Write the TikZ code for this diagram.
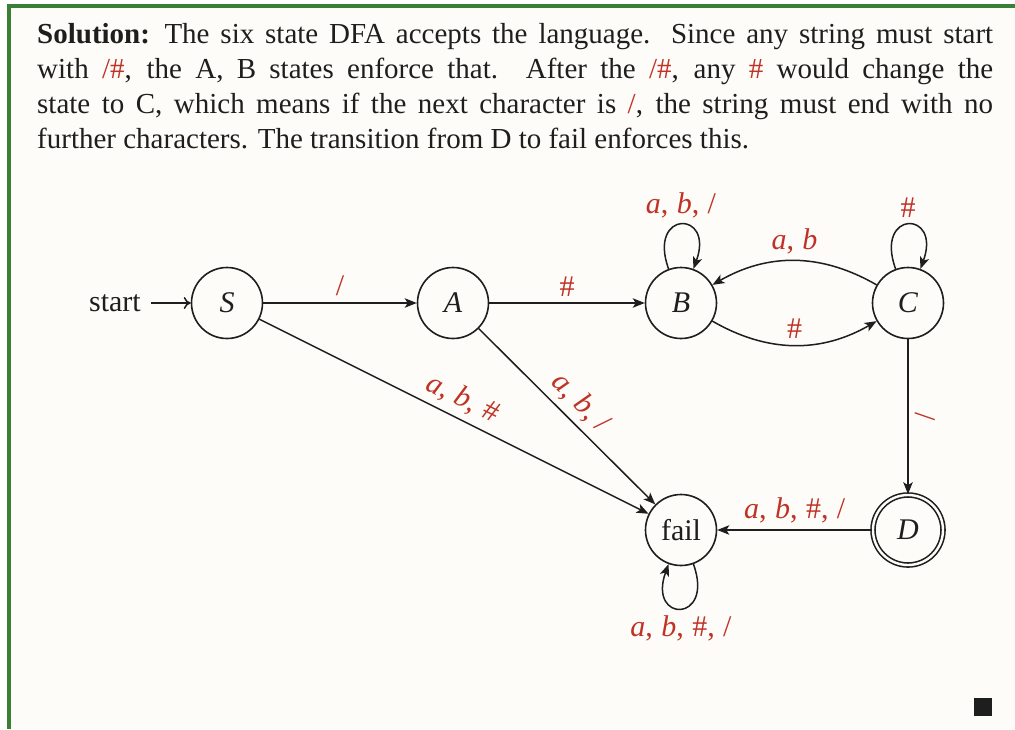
\documentclass[tikz,border=0pt]{standalone}
\usepackage{fontspec}
\setmainfont{Liberation Serif}
\usetikzlibrary{arrows.meta}
\definecolor{lblred}{RGB}{192,50,38}
\definecolor{framegreen}{RGB}{58,128,52}
\definecolor{bgcream}{RGB}{253,252,248}
\definecolor{ink}{RGB}{30,30,30}
\newcommand\dfont{\fontsize{30}{34}\selectfont}
\newcommand\cs{,\hspace{0.28em}}
\begin{document}
\begin{tikzpicture}[x=1pt,y=1pt,
  state/.style={circle,draw=ink,line width=1.6pt,minimum size=71pt,inner sep=0pt,font=\dfont,text=ink},
  accept/.style={state,double=bgcream,double distance=2.4pt,minimum size=70pt},
  edge/.style={draw=ink,line width=1.5pt,-{Stealth[length=12pt,width=9.5pt,inset=3pt]}},
  startarrow/.style={draw=ink,line width=1.5pt,-{Computer Modern Rightarrow[length=7pt,width=12pt]}},
  lbl/.style={text=lblred,font=\dfont,inner sep=6pt},
  loopup/.style={out=110,in=70,looseness=6.5,min distance=5mm},
  loopdown/.style={out=-70,in=-110,looseness=6.5,min distance=5mm},
]
\useasboundingbox (0,0) rectangle (1015,-729);
\fill[white] (0,0) rectangle (1015,-729);
\fill[bgcream] (7,-4) rectangle (1015,-729);
\fill[framegreen] (7,-4) rectangle (1015,-8);
\fill[framegreen] (7,-4) rectangle (11,-729);

\node[anchor=base west,text width=956pt,inner sep=0pt,align=justify,
      font=\fontsize{29}{35}\selectfont,text=ink] (sol) at (37,-43)
{\textbf{Solution:}\enspace The six state DFA accepts the language. Since any string must start\linebreak
with {\color{lblred}/\#}, the A, B states enforce that. After the {\color{lblred}/\#}, any {\color{lblred}\#} would change the\linebreak
state to C, which means if the next character is {\color{lblred}/}, the string must end with no\linebreak
further characters. The transition from D to fail enforces this.};

\node[state] (S) at (227,-303) {\textit{S}};
\node[state] (A) at (453,-303) {\textit{A}};
\node[state] (B) at (681,-303) {\textit{B}};
\node[state] (C) at (908,-303) {\textit{C}};
\node[state] (F) at (681,-530) {fail};
\node[accept] (D) at (908,-530) {\textit{D}};
\node[anchor=east,inner xsep=10pt,inner ysep=0pt,font=\dfont,text=ink] (start) at (151,-303) {start};

\draw[startarrow] (start) -- (S);
\draw[edge] (S) -- node[lbl,above]{/} (A);
\draw[edge] (A) -- node[lbl,above]{\#} (B);
\draw[edge] (B) to[bend right=30] node[lbl,above]{\#} (C);
\draw[edge] (C) to[bend right=30] node[lbl,above]{\textit{a}\cs\textit{b}} (B);
\draw[edge] (B) to[loopup] node[lbl,above]{\textit{a}\cs\textit{b}\cs/} (B);
\draw[edge] (C) to[loopup] node[lbl,above]{\#} (C);
\draw[edge] (C) -- node[lbl,above,sloped]{/} (D);
\draw[edge] (D) -- node[lbl,above]{\textit{a}\cs\textit{b}\cs\#\cs/} (F);
\draw[edge] (S) -- node[lbl,above,sloped]{\textit{a}\cs\textit{b}\cs\#} (F);
\draw[edge] (A) -- node[lbl,above,sloped]{\textit{a}\cs\textit{b}\cs/} (F);
\draw[edge] (F) to[loopdown] node[lbl,below]{\textit{a}\cs\textit{b}\cs\#\cs/} (F);

\node[fill=ink,minimum size=18pt,inner sep=0pt] (qed) at (983,-707) {};
\end{tikzpicture}
\end{document}
